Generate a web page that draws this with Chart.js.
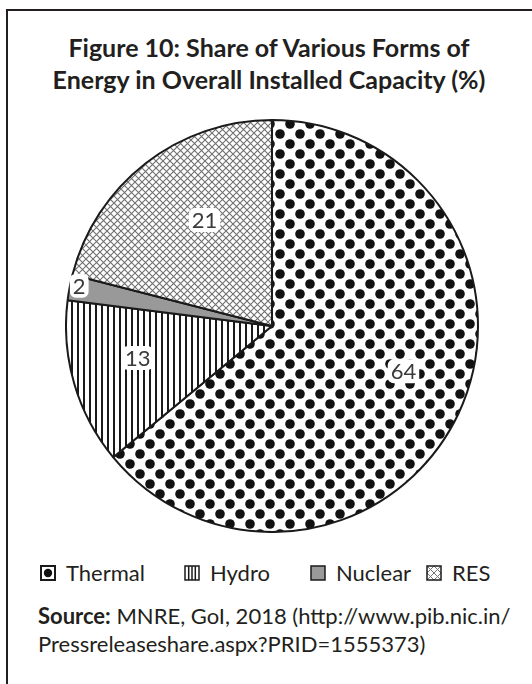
<!DOCTYPE html>
<html>
<head>
<meta charset="utf-8">
<script src="https://cdn.jsdelivr.net/npm/chart.js@4.4.1/dist/chart.umd.min.js"></script>
<style>
    body {
        margin: 0;
        width: 532px;
        height: 684px;
        overflow: hidden;
        position: relative;
        background: #fff;
        color: #231f20;
        font-family: Lato, 'Open Sans', sans-serif;
    }
    .frame {
        position: absolute;
        left: 6px;
        top: 9px;
        width: 600px;
        height: 700px;
        border-left: 2px solid #231f20;
        border-top: 2px solid #231f20;
    }
    .title {
        position: absolute;
        left: 0;
        width: 538px;
        text-align: center;
        font-weight: bold;
        font-size: 25px;
        white-space: nowrap;
    }
    .chart-box {
        position: absolute;
        left: 65px;
        top: 119px;
        width: 414px;
        height: 414px;
    }
    .legend-item {
        position: absolute;
        top: 559px;
        display: flex;
        align-items: center;
        font-size: 22px;
        white-space: nowrap;
    }
    .legend-item canvas { margin-right: 10px; }
    .source {
        position: absolute;
        left: 38px;
        top: 602px;
        font-size: 22px;
        line-height: 28px;
        white-space: nowrap;
    }
</style>
</head>
<body>
<div class="frame"></div>
<div class="title" style="top:32px;">Figure 10: Share of Various Forms of</div>
<div class="title" style="top:64px;">Energy in Overall Installed Capacity (%)</div>
<div class="chart-box"><canvas id="pie"></canvas></div>
<div id="legend"></div>
<div class="source"><b>Source:</b> MNRE, GoI, 2018 (http://www.pib.nic.in/<br>Pressreleaseshare.aspx?PRID=1555373)</div>

<script>
// Data
const categories = ['Thermal', 'Hydro', 'Nuclear', 'RES'];
const shares = [64, 13, 2, 21];

// label placement: fraction of radius, and angle shift (deg) from slice middle
const labelRadius = [0.675, 0.67, 0.956, 0.61];
const labelShift = [-6.2, 2.8, 1, 5.3];
const legendLeft = [40, 184, 310, 426];

function makePattern(ctx, kind) {
    const c = document.createElement('canvas');
    const g = c.getContext('2d');
    if (kind === 'dots') {
        c.width = 20; c.height = 20;
        g.fillStyle = '#fff';
        g.fillRect(0, 0, 20, 20);
        g.fillStyle = '#111';
        [[5, 5], [15, 15]].forEach(([x, y]) => {
            g.beginPath();
            g.arc(x, y, 4.8, 0, Math.PI * 2);
            g.fill();
        });
    } else if (kind === 'vlines') {
        c.width = 6; c.height = 6;
        g.fillStyle = '#fff';
        g.fillRect(0, 0, 6, 6);
        g.fillStyle = '#1a1a1a';
        g.fillRect(0, 0, 2, 6);
    } else if (kind === 'cross') {
        c.width = 7; c.height = 7;
        g.fillStyle = '#fff';
        g.fillRect(0, 0, 7, 7);
        g.strokeStyle = '#707070';
        g.lineWidth = 1.1;
        g.beginPath();
        g.moveTo(0, 0); g.lineTo(7, 7);
        g.moveTo(7, 0); g.lineTo(0, 7);
        g.stroke();
    }
    return ctx.createPattern(c, 'repeat');
}

const canvas = document.getElementById('pie');
const ctx = canvas.getContext('2d');
const fills = [
    makePattern(ctx, 'dots'),
    makePattern(ctx, 'vlines'),
    '#999999',
    makePattern(ctx, 'cross')
];

const sliceLabels = {
    id: 'sliceLabels',
    afterDatasetsDraw(chart) {
        const c = chart.ctx;
        const meta = chart.getDatasetMeta(0);
        c.save();
        c.font = '22px Lato, sans-serif';
        c.textAlign = 'center';
        c.textBaseline = 'middle';
        meta.data.forEach((arc, i) => {
            const p = arc.getProps(['x', 'y', 'startAngle', 'endAngle', 'outerRadius'], true);
            const mid = (p.startAngle + p.endAngle) / 2 + labelShift[i] * Math.PI / 180;
            const r = p.outerRadius * labelRadius[i];
            const x = p.x + Math.cos(mid) * r;
            const y = p.y + Math.sin(mid) * r;
            const text = String(chart.data.datasets[0].data[i]);
            const w = c.measureText(text).width + 6;
            c.fillStyle = '#fff';
            c.beginPath();
            c.roundRect(x - w / 2, y - 12, w, 24, 6);
            c.fill();
            c.fillStyle = '#3a3a3a';
            c.fillText(text, x, y + 1);
        });
        c.restore();
    }
};

new Chart(ctx, {
    type: 'pie',
    data: {
        labels: categories,
        datasets: [{
            data: shares,
            backgroundColor: fills,
            borderColor: '#1a1a1a',
            borderWidth: 2
        }]
    },
    options: {
        responsive: true,
        maintainAspectRatio: false,
        animation: false,
        layout: { padding: 0 },
        plugins: {
            legend: { display: false },
            tooltip: { enabled: false }
        }
    },
    plugins: [sliceLabels]
});

// legend markers
function drawMarker(g, kind) {
    g.lineWidth = 2;
    g.strokeStyle = '#1a1a1a';
    if (kind === 0) {
        g.strokeRect(1, 1, 14, 14);
        g.fillStyle = '#111';
        g.beginPath();
        g.arc(8, 8, 4.2, 0, Math.PI * 2);
        g.fill();
    } else if (kind === 1) {
        g.lineWidth = 1.5;
        g.strokeRect(1, 1, 14, 14);
        g.beginPath();
        [4.7, 8, 11.3].forEach(x => { g.moveTo(x, 1); g.lineTo(x, 15); });
        g.stroke();
    } else if (kind === 2) {
        g.fillStyle = '#999';
        g.fillRect(1, 1, 14, 14);
        g.lineWidth = 1.5;
        g.strokeRect(1, 1, 14, 14);
    } else {
        g.lineWidth = 1;
        g.strokeStyle = '#777';
        g.beginPath();
        g.moveTo(1, 1); g.lineTo(15, 15);
        g.moveTo(15, 1); g.lineTo(1, 15);
        g.moveTo(8, 1); g.lineTo(15, 8); g.lineTo(8, 15); g.lineTo(1, 8); g.closePath();
        g.stroke();
        g.strokeStyle = '#1a1a1a';
        g.lineWidth = 1.5;
        g.strokeRect(1, 1, 14, 14);
    }
}

const legend = document.getElementById('legend');
categories.forEach((name, i) => {
    const item = document.createElement('div');
    item.className = 'legend-item';
    item.style.left = legendLeft[i] + 'px';
    const m = document.createElement('canvas');
    m.width = 16; m.height = 16;
    drawMarker(m.getContext('2d'), i);
    item.appendChild(m);
    item.appendChild(document.createTextNode(name));
    legend.appendChild(item);
});
</script>
</body>
</html>
